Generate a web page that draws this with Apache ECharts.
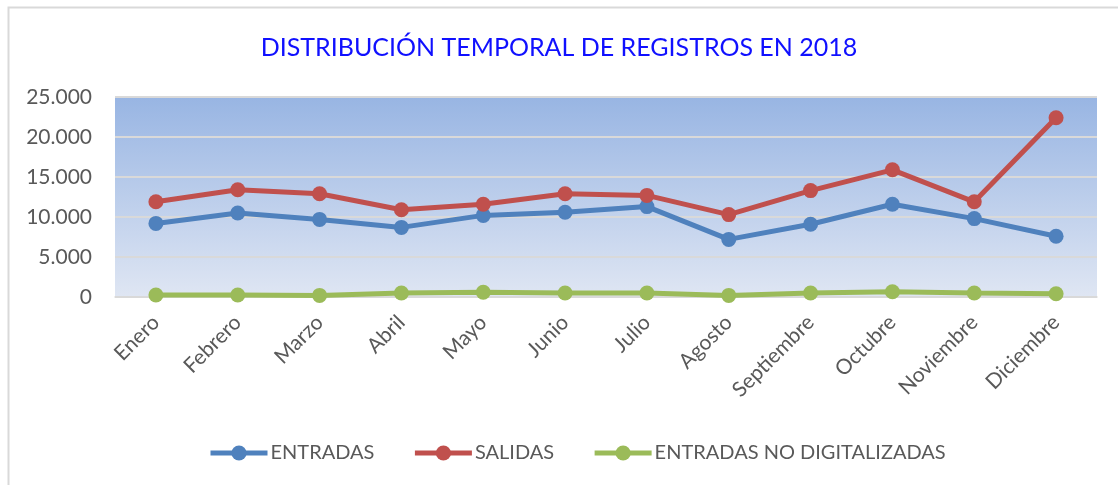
<!DOCTYPE html>
<html>
<head>
<meta charset="utf-8">
<script src="https://cdn.jsdelivr.net/npm/echarts@6/dist/echarts.min.js"></script>
<style>
  html, body { margin: 0; padding: 0; background: #fff; }
  #chart { width: 1118px; height: 485px; }
</style>
</head>
<body>
<div id="chart"></div>
<script>
  const meses = ['Enero', 'Febrero', 'Marzo', 'Abril', 'Mayo', 'Junio', 'Julio', 'Agosto', 'Septiembre', 'Octubre', 'Noviembre', 'Diciembre'];
  const entradas = [9200, 10500, 9700, 8700, 10200, 10600, 11300, 7200, 9100, 11600, 9800, 7600];
  const salidas = [11900, 13400, 12900, 10900, 11600, 12900, 12700, 10300, 13300, 15900, 11900, 22400];
  const noDigitalizadas = [250, 250, 200, 500, 600, 500, 500, 200, 500, 650, 500, 400];

  const fuente = 'Lato';

  // 25000 -> "25.000"
  function miles(v) {
    return String(v).replace(/\B(?=(\d{3})+(?!\d))/g, '.');
  }

  function serie(nombre, color, datos) {
    return {
      name: nombre,
      type: 'line',
      data: datos,
      symbol: 'circle',
      symbolSize: 15,
      lineStyle: { color: color, width: 5 },
      itemStyle: { color: color },
      emphasis: { disabled: true }
    };
  }

  const myChart = echarts.init(document.getElementById('chart'));
  myChart.setOption({
    animation: false,
    textStyle: { fontFamily: fuente },
    graphic: [
      {
        type: 'polyline',
        shape: { points: [[8.5, 490], [8.5, 7.5], [1120, 7.5]] },
        style: { stroke: '#d9d9d9', lineWidth: 2, fill: null }
      }
    ],
    title: {
      text: 'DISTRIBUCIÓN TEMPORAL DE REGISTROS EN 2018',
      left: 'center',
      top: 30,
      textStyle: { color: '#1010ff', fontSize: 25, fontWeight: 'normal', fontFamily: fuente }
    },
    legend: {
      top: 438,
      left: 203,
      itemWidth: 57,
      itemHeight: 19,
      itemGap: 38,
      lineStyle: { width: 5 },
      textStyle: { color: '#595959', fontSize: 20, fontFamily: fuente, padding: [0, 0, 0, -2] },
      data: ['ENTRADAS', 'SALIDAS', 'ENTRADAS NO DIGITALIZADAS']
    },
    grid: {
      left: 115,
      right: 21,
      top: 97,
      bottom: 188,
      show: true,
      borderWidth: 0,
      backgroundColor: new echarts.graphic.LinearGradient(0, 0, 0, 1, [
        { offset: 0, color: '#98b5e3' },
        { offset: 1, color: '#dfe6f3' }
      ])
    },
    xAxis: {
      type: 'category',
      data: meses,
      boundaryGap: true,
      axisLine: { lineStyle: { color: '#d9d9d9', width: 1.5 } },
      axisTick: { show: false },
      axisLabel: { rotate: 45, color: '#595959', fontSize: 21, margin: 22, fontFamily: fuente }
    },
    yAxis: {
      type: 'value',
      min: 0,
      max: 25000,
      interval: 5000,
      axisLine: { show: false },
      axisTick: { show: false },
      splitLine: { lineStyle: { color: '#d9d9d9', width: 2 } },
      axisLabel: { color: '#595959', fontSize: 21, margin: 23, formatter: miles, fontFamily: fuente }
    },
    series: [
      serie('ENTRADAS', '#4f81bd', entradas),
      serie('SALIDAS', '#c0504d', salidas),
      serie('ENTRADAS NO DIGITALIZADAS', '#9bbb59', noDigitalizadas)
    ]
  });
</script>
</body>
</html>
